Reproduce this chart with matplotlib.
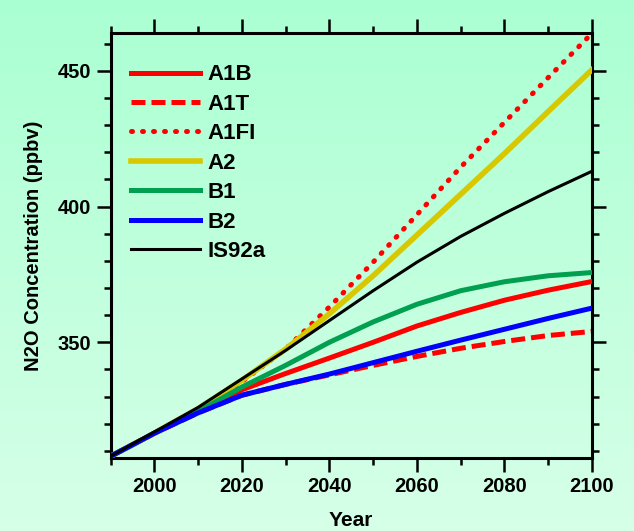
import numpy as np
import matplotlib.pyplot as plt
from matplotlib.ticker import MultipleLocator
from matplotlib.patches import Rectangle

plt.rcParams['font.family'] = ['Liberation Sans', 'DejaVu Sans']
plt.rcParams['font.weight'] = 'bold'
plt.rcParams['axes.labelweight'] = 'bold'

# N2O concentration (ppbv), every 10 years
years = [1990, 2000, 2010, 2020, 2030, 2040, 2050, 2060, 2070, 2080, 2090, 2100]
a1b = [308, 316.5, 324.5, 332.5, 338.5, 344.2, 350, 356, 361, 365.5, 369.2, 372.4]
a1t = [308, 316.5, 324, 330.5, 334.5, 338, 341.5, 344.8, 347.8, 350.3, 352.5, 354]
a1fi = [308, 316.5, 325.5, 335.5, 347.5, 363, 379.5, 397, 414.5, 431, 447.5, 463.8]
a2 = [308, 316.5, 325.5, 336, 347.5, 360.5, 374.5, 389.5, 404.5, 419.5, 435, 450.4]
b1 = [308, 316.5, 324.5, 333.5, 341.5, 350, 357.5, 364, 369, 372.3, 374.5, 375.7]
b2 = [308, 316.5, 324, 330.5, 334.5, 338.3, 342.5, 346.7, 350.8, 354.8, 358.8, 362.6]
is92a = [308, 317, 326, 336.5, 347, 358, 369, 379.5, 389, 397.5, 405.5, 413]

W, H = 634, 531
fig = plt.figure(figsize=(W / 100, H / 100), dpi=100)

# light green vertical gradient behind everything
top_c = np.array([170, 255, 210]) / 255
bot_c = np.array([214, 255, 232]) / 255
g = np.linspace(0, 1, 256)[:, None, None]
bg = fig.add_axes([0, 0, 1, 1], zorder=-10)
bg.imshow(top_c + (bot_c - top_c) * g, aspect='auto', extent=[0, 1, 0, 1])
bg.axis('off')

ax = fig.add_axes([110.5 / W, 1 - 457.7 / H, 481.5 / W, 424.4 / H])
ax.set_facecolor('none')

series = [
    ('A1B', a1b, dict(color='#ff0000', lw=3.6, ls='-', zorder=3)),
    ('A1T', a1t, dict(color='#ff0000', lw=3.6, ls=(0, (2.8, 1.2)), zorder=2)),
    ('A1FI', a1fi, dict(color='#ff0000', lw=3.6, ls=(0, (0.2, 2.0)),
                        dash_capstyle='round', zorder=1)),
    ('A2', a2, dict(color='#d7c800', lw=4.0, ls='-', zorder=4)),
    ('B1', b1, dict(color='#00a050', lw=3.6, ls='-', zorder=5)),
    ('B2', b2, dict(color='#0000ff', lw=3.6, ls='-', zorder=6)),
    ('IS92a', is92a, dict(color='black', lw=2.2, ls='-', zorder=7)),
]
for name, vals, kw in series:
    ax.plot(years, vals, label=name, **kw)

ax.set_xlim(1990, 2100)
ax.set_ylim(307.5, 463.8)
ax.xaxis.set_major_locator(MultipleLocator(20))
ax.xaxis.set_minor_locator(MultipleLocator(10))
ax.yaxis.set_major_locator(MultipleLocator(50))
ax.yaxis.set_minor_locator(MultipleLocator(10))

for s in ax.spines.values():
    s.set_linewidth(2.2)
ax.tick_params(which='both', direction='out', top=True, right=True,
               labeltop=True, width=1.8, labelsize=14.5)
ax.tick_params(which='major', length=10, pad=3.6)
ax.tick_params(which='minor', length=5)

ax.set_xlabel('Year', fontsize=15, labelpad=11)
ax.set_ylabel('N2O Concentration (ppbv)', fontsize=14.5, labelpad=11)

leg = ax.legend(loc='upper left', bbox_to_anchor=(0.0426, 0.927), frameon=False,
                fontsize=16, handlelength=3.1, handletextpad=0.36,
                labelspacing=0.38, borderpad=0, borderaxespad=0)

# top strip hides most of the upper tick labels, as in the original
fig.add_artist(Rectangle((0, 1 - 8.5 / H), 1, 8.5 / H, transform=fig.transFigure,
                         color=top_c, zorder=10))

fig.savefig('out.png', dpi=100)
